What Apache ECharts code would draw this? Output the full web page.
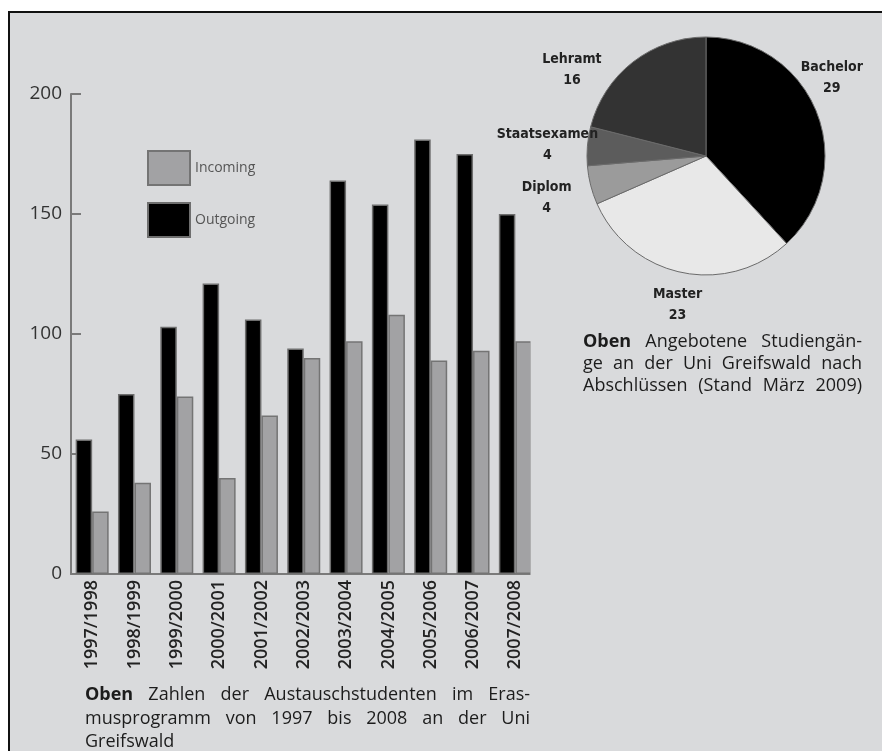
<!DOCTYPE html>
<html>
<head>
<meta charset="utf-8">
<script src="https://cdn.jsdelivr.net/npm/echarts@6/dist/echarts.min.js"></script>
<style>
  html, body { margin: 0; padding: 0; background: #ffffff; }
  #panel {
    position: absolute; left: 8px; top: 11px; width: 880px; height: 745px;
    background: #d9dadc; border-left: 2px solid #111; border-top: 2px solid #111;
  }
  #chart { position: absolute; left: 0; top: 0; width: 882px; height: 751px; }
</style>
</head>
<body>
<div id="panel"></div>
<div id="chart"></div>
<script>
// Erasmus exchange students per academic year
const years = ['1997/1998', '1998/1999', '1999/2000', '2000/2001', '2001/2002', '2002/2003',
               '2003/2004', '2004/2005', '2005/2006', '2006/2007', '2007/2008'];
const outgoing = [56, 75, 103, 121, 106, 94, 164, 154, 181, 175, 150];
const incoming = [26, 38, 74, 40, 66, 90, 97, 108, 89, 93, 97];
const yTicks = { min: 0, max: 200, step: 50 };

// Degree programmes offered (March 2009)
const programmes = ['Bachelor', 'Master', 'Diplom', 'Staatsexamen', 'Lehramt'];
const programmeCounts = [29, 23, 4, 4, 16];
const programmeColors = ['#000000', '#e8e8e8', '#9b9b9b', '#5c5c5c', '#333333'];

// Caption paragraphs; '*' marks the bold lead word
const barCaption = [
  { text: '*Oben Zahlen der Austauschstudenten im Eras-', justify: true },
  { text: 'musprogramm von 1997 bis 2008 an der Uni', justify: true },
  { text: 'Greifswald', justify: false }
];
const pieCaption = [
  { text: '*Oben Angebotene Studiengän-', justify: true },
  { text: 'ge an der Uni Greifswald nach', justify: true },
  { text: 'Abschlüssen (Stand März 2009)', justify: true }
];

const BG = '#d9dadc';
const TEXT_FONT = '"Open Sans", "Noto Sans", sans-serif';
const LABEL_FONT = '"Liberation Sans Narrow", "DejaVu Sans Condensed", "Open Sans", sans-serif';

// pie label nudges (px) relative to the slice edge
const pieLabelShift = [[15, -35], [-4, 32], [-44, 13], [-40, -1], [-61, 8]];

const measureCtx = document.createElement('canvas').getContext('2d');
function textWidth(str, weight, size) {
  measureCtx.font = weight + ' ' + size + 'px "Open Sans"';
  return measureCtx.measureText(str).width;
}

// Lay a paragraph out word by word so that lines can be set justified
function paragraph(lines, left, right, firstY, lineHeight, size) {
  const els = [];
  lines.forEach(function (line, i) {
    const raw = line.text.split(' ');
    const words = raw.map(function (w) {
      const bold = w.charAt(0) === '*';
      const t = bold ? w.slice(1) : w;
      return { t: t, weight: bold ? 'bold' : 'normal' };
    });
    const widths = words.map(function (w) { return textWidth(w.t, w.weight, size); });
    const total = widths.reduce(function (a, b) { return a + b; }, 0);
    const gap = (line.justify && words.length > 1)
      ? (right - left - total) / (words.length - 1)
      : textWidth(' ', 'normal', size);
    let x = left;
    const y = firstY + i * lineHeight;
    words.forEach(function (w, j) {
      els.push({
        type: 'text', x: x, y: y, z: 50,
        style: {
          text: w.t, fill: '#1c1c1c', fontSize: size, fontWeight: w.weight,
          fontFamily: TEXT_FONT, textAlign: 'left', textVerticalAlign: 'middle'
        }
      });
      x += widths[j] + gap;
    });
  });
  return els;
}

const chart = echarts.init(document.getElementById('chart'), null, { renderer: 'canvas' });

const graphics = []
  .concat(paragraph(barCaption, 85, 530, 695, 23.5, 18))
  .concat(paragraph(pieCaption, 583, 862, 342, 22, 18));
// trims the last category band at the end of the axis
graphics.push({
  type: 'rect', z: 100,
  shape: { x: 530.5, y: 205, width: 8, height: 372 },
  style: { fill: BG }
});

chart.setOption({
  backgroundColor: 'transparent',
  animation: false,
  textStyle: { fontFamily: TEXT_FONT },
  legend: {
    data: ['Incoming', 'Outgoing'],
    orient: 'vertical',
    left: 142, top: 145,
    itemWidth: 42, itemHeight: 34, itemGap: 16,
    icon: 'rect',
    selectedMode: false,
    textStyle: { fontSize: 14, color: '#555', fontFamily: TEXT_FONT }
  },
  grid: { left: 71, top: 94, width: 465.5, height: 480 },
  xAxis: {
    type: 'category',
    data: years,
    axisLine: { lineStyle: { color: '#7a7a7a', width: 2 } },
    axisTick: { inside: true, length: 8, interval: 0, lineStyle: { color: '#8a8a8a', width: 1.5 } },
    axisLabel: {
      rotate: 90, interval: 0, margin: 6,
      fontSize: 18, fontWeight: 600, color: '#222', fontFamily: TEXT_FONT
    }
  },
  yAxis: {
    type: 'value',
    min: yTicks.min, max: yTicks.max, interval: yTicks.step,
    splitLine: { show: false },
    axisLine: { show: true, lineStyle: { color: '#7a7a7a', width: 2 } },
    axisTick: { show: true, inside: true, length: 10, lineStyle: { color: '#7a7a7a', width: 2 } },
    axisLabel: { fontSize: 19, color: '#333', margin: 9, fontFamily: TEXT_FONT }
  },
  series: [
    {
      name: 'Outgoing', type: 'bar', data: outgoing,
      barWidth: 16.5, barGap: '0%',
      itemStyle: { color: '#000000', borderColor: '#6e6e6e', borderWidth: 1.5 }
    },
    {
      name: 'Incoming', type: 'bar', data: incoming,
      barWidth: 16.5, barGap: '0%',
      itemStyle: { color: '#a2a2a4', borderColor: '#747474', borderWidth: 1.5 }
    },
    {
      type: 'pie',
      center: [706, 156],
      radius: 119,
      startAngle: 90,
      clockwise: true,
      avoidLabelOverlap: false,
      silent: true,
      data: programmes.map(function (name, i) {
        return { name: name, value: programmeCounts[i], itemStyle: { color: programmeColors[i] } };
      }),
      itemStyle: { borderColor: '#6a6a6a', borderWidth: 1 },
      label: {
        show: true, position: 'outside',
        formatter: '{b}\n{c}',
        fontFamily: LABEL_FONT, fontWeight: 'bold', fontSize: 14,
        lineHeight: 21, color: '#222',
        distanceToLabelLine: 0
      },
      labelLine: { show: false, length: 0, length2: 0 },
      labelLayout: function (params) {
        const s = pieLabelShift[params.dataIndex];
        return { dx: s[0], dy: s[1], align: 'center', verticalAlign: 'middle' };
      }
    }
  ],
  graphic: graphics
});
</script>
</body>
</html>
